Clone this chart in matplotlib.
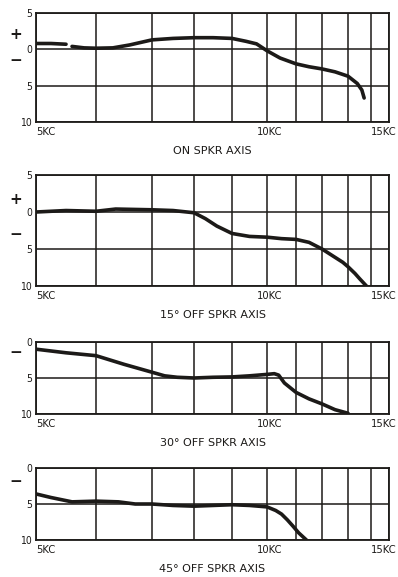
import numpy as np
import matplotlib.pyplot as plt

# chart paper: one vertical line per KC, drawn with uneven spacing
grid_kc = np.arange(5, 16)
grid_pos = np.array([0, 60, 116, 158, 196, 231, 260, 286, 312, 335, 353], dtype=float)

# response curves, dB relative to the 0 line (KC, dB)
on_kc = [5.0, 5.25, 5.5, np.nan, 5.6, 5.8, 6.0, 6.3, 6.6, 7.0, 7.5, 8.0, 8.5, 9.0,
         9.4, 9.7, 10.0, 10.45, 11.0, 11.5, 12.0, 12.5, 13.0, 13.4, 13.6, 13.7]
on_db = [0.8, 0.8, 0.7, np.nan, 0.4, 0.2, 0.15, 0.2, 0.6, 1.3, 1.5, 1.6, 1.6, 1.5,
         1.1, 0.75, -0.2, -1.2, -2.0, -2.4, -2.7, -3.1, -3.7, -4.7, -5.6, -6.7]

off15_kc = [5.0, 5.5, 6.0, 6.35, 7.0, 7.5, 8.0, 8.3, 8.6, 9.0, 9.5, 10.0, 10.5, 11.0,
            11.5, 12.0, 12.4, 12.8, 13.0, 13.3, 13.5, 13.8]
off15_db = [0.0, 0.2, 0.1, 0.4, 0.3, 0.2, -0.1, -0.9, -1.9, -2.9, -3.3, -3.4, -3.6, -3.7,
            -4.1, -5.0, -5.9, -6.8, -7.4, -8.3, -9.0, -10.0]

off30_kc = [5.0, 5.5, 6.0, 6.5, 7.0, 7.3, 7.6, 8.0, 8.5, 9.0, 9.5, 10.0, 10.25, 10.4,
            10.6, 11.0, 11.5, 12.0, 12.5, 13.0]
off30_db = [-1.0, -1.5, -1.9, -3.1, -4.2, -4.7, -4.9, -5.0, -4.9, -4.85, -4.7, -4.5, -4.4, -4.6,
            -5.7, -7.0, -7.9, -8.6, -9.4, -9.9]

off45_kc = [5.0, 5.25, 5.6, 6.0, 6.4, 6.7, 7.0, 7.5, 8.0, 8.5, 9.0, 9.5, 10.0, 10.3,
            10.5, 10.7, 10.9, 11.1, 11.4]
off45_db = [-3.6, -4.1, -4.7, -4.6, -4.7, -5.0, -5.0, -5.2, -5.3, -5.2, -5.1, -5.2, -5.4, -5.9,
            -6.4, -7.2, -8.1, -9.0, -10.0]

titles = ["ON SPKR AXIS", "15\u00b0 OFF SPKR AXIS", "30\u00b0 OFF SPKR AXIS", "45\u00b0 OFF SPKR AXIS"]

ink = "#1c1a18"


def fwd(x):
    return np.interp(x, grid_kc, grid_pos)


def inv(y):
    return np.interp(y, grid_pos, grid_kc)


fig = plt.figure(figsize=(3.98, 5.77), dpi=100)

# [left, bottom, width, height], y range, data, sign positions (axes fraction)
panels = [
    ([0.0905, 0.7886, 0.887, 0.1889], (-10, 5), on_kc, on_db, [("+", 0.80), ("\u2212", 0.56)]),
    ([0.0905, 0.5043, 0.887, 0.1924], (-10, 5), off15_kc, off15_db, [("+", 0.775), ("\u2212", 0.46)]),
    ([0.0905, 0.2825, 0.887, 0.1248], (-10, 0), off30_kc, off30_db, [("\u2212", 0.85)]),
    ([0.0905, 0.0641, 0.887, 0.1248], (-10, 0), off45_kc, off45_db, [("\u2212", 0.81)]),
]

for (rect, ylim, kc, db, signs), title in zip(panels, titles):
    ax = fig.add_axes(rect)
    ax.set_xscale('function', functions=(fwd, inv))
    ax.set_xlim(5, 15)
    ax.set_ylim(*ylim)

    for k in grid_kc:
        ax.axvline(k, color=ink, lw=1.1, zorder=1)
    for lev in range(ylim[0], ylim[1] + 1, 5):
        ax.axhline(lev, color=ink, lw=1.1, zorder=1)
    for s in ax.spines.values():
        s.set_color(ink)
        s.set_linewidth(1.3)

    ax.plot(kc, db, color=ink, lw=2.6, solid_capstyle='round', zorder=3)

    yt = list(range(ylim[1], ylim[0] - 1, -5))
    ax.set_yticks(yt)
    ax.set_yticklabels([str(abs(v)) for v in yt], fontsize=7.5, fontstretch='condensed')
    ax.set_xticks([])
    ax.tick_params(length=0, colors=ink)
    ax.tick_params(axis='y', pad=3)

    # frequency labels under the frame
    ax.annotate("5KC", xy=(5, 0), xycoords=('data', 'axes fraction'), xytext=(0, -7.5),
                textcoords='offset points', ha='left', va='center', fontsize=8,
                fontstretch='condensed', color=ink)
    ax.annotate("10KC", xy=(10, 0), xycoords=('data', 'axes fraction'), xytext=(2, -7.5),
                textcoords='offset points', ha='center', va='center', fontsize=8,
                fontstretch='condensed', color=ink)
    ax.annotate("15KC", xy=(15, 0), xycoords=('data', 'axes fraction'), xytext=(5.5, -7.5),
                textcoords='offset points', ha='right', va='center', fontsize=8,
                fontstretch='condensed', color=ink)

    # + / - markers beside the level scale
    for sym, yf in signs:
        ax.text(-0.057, yf, sym, transform=ax.transAxes, fontsize=11, fontweight='bold',
                ha='center', va='center', color=ink)

    ax.annotate(title, xy=(0.5, 0), xycoords='axes fraction', xytext=(0, -21),
                textcoords='offset points', ha='center', va='center', fontsize=8, color=ink)

fig.savefig("out.png", dpi=100, facecolor='white')
